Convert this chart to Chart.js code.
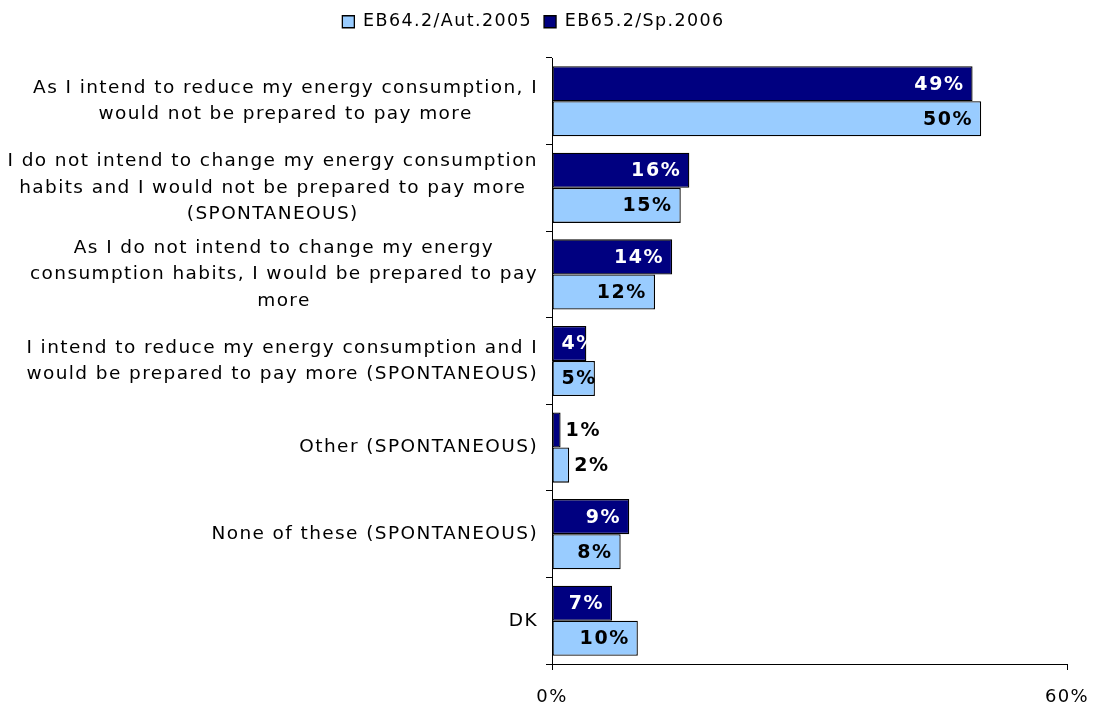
<!DOCTYPE html>
<html>
<head>
<meta charset="utf-8">
<script src="https://cdn.jsdelivr.net/npm/chart.js@4.4.1/dist/chart.umd.min.js"></script>
<style>
  html, body { margin: 0; padding: 0; background: #fff; }
  #wrap { width: 1095px; height: 705px; }
</style>
</head>
<body>
<div id="wrap"><canvas id="chart"></canvas></div>
<script>
// answer options, each one split into the lines shown beside the bars
const categories = [
  ['As I intend to reduce my energy consumption, I', 'would not be prepared to pay more'],
  ['I do not intend to change my energy consumption', 'habits and I would not be prepared to pay more', '(SPONTANEOUS)'],
  ['As I do not intend to change my energy', 'consumption habits, I would be prepared to pay', 'more'],
  ['I intend to reduce my energy consumption and I', 'would be prepared to pay more (SPONTANEOUS)'],
  ['Other (SPONTANEOUS)'],
  ['None of these (SPONTANEOUS)'],
  ['DK']
];
const spring2006 = [49, 16, 14, 4, 1, 9, 7];
const autumn2005 = [50, 15, 12, 5, 2, 8, 10];
const xTicks = [0, 60];

const FONT = 'DejaVu Sans';
const SPACING = '1.4px';

// wider tracking for all chart text (canvas resets it on resize)
const tracking = {
  id: 'tracking',
  beforeLayout(chart) { chart.ctx.letterSpacing = SPACING; },
  beforeDraw(chart) { chart.ctx.letterSpacing = SPACING; }
};

// category text: block sits against the axis, lines centred inside it
const sideLabels = {
  id: 'sideLabels',
  afterDraw(chart) {
    const ctx = chart.ctx;
    const yScale = chart.scales.y;
    const right = chart.chartArea.left - 14;
    const lineH = 26.5;
    ctx.save();
    ctx.font = '18.5px "' + FONT + '"';
    ctx.letterSpacing = SPACING;
    ctx.fillStyle = '#000';
    ctx.textAlign = 'center';
    ctx.textBaseline = 'middle';
    categories.forEach((lines, i) => {
      const w = Math.max(...lines.map(l => ctx.measureText(l).width));
      const cx = right - w / 2;
      const cy = yScale.getPixelForValue(i);
      const top = cy - (lines.length - 1) * lineH / 2;
      lines.forEach((l, k) => ctx.fillText(l, cx, top + k * lineH));
    });
    ctx.restore();
  }
};

// value labels: inside the bar end, pushed outside for the tiny bars
const valueLabels = {
  id: 'valueLabels',
  afterDatasetsDraw(chart) {
    const ctx = chart.ctx;
    ctx.save();
    ctx.font = 'bold 19px "' + FONT + '"';
    ctx.letterSpacing = '1.6px';
    ctx.textBaseline = 'middle';
    ctx.textAlign = 'left';
    chart.data.datasets.forEach((ds, d) => {
      chart.getDatasetMeta(d).data.forEach((bar, i) => {
        const v = ds.data[i];
        const txt = v + '%';
        const w = ctx.measureText(txt).width;
        let x;
        if (v < 3) {
          ctx.fillStyle = '#000';
          x = bar.x + 5;
        } else {
          ctx.fillStyle = d === 0 ? '#fff' : '#000';
          x = Math.max(bar.x - 8 - w, bar.base + 9);
        }
        ctx.fillText(txt, x, bar.y + 1);
      });
    });
    ctx.restore();
  }
};

// fixed legend band so the plot starts at the same height
const legendBand = {
  id: 'legendBand',
  afterInit(chart) {
    const lg = chart.legend;
    const fit = lg.fit;
    lg.fit = function () { fit.call(this); this.height = 57; };
  }
};

new Chart(document.getElementById('chart'), {
  type: 'bar',
  data: {
    labels: categories.map(c => c.join(' ')),
    datasets: [
      {
        label: 'EB65.2/Sp.2006',
        data: spring2006,
        backgroundColor: '#000080',
        borderColor: '#000',
        borderWidth: 1.3,
        borderSkipped: false
      },
      {
        label: 'EB64.2/Aut.2005',
        data: autumn2005,
        backgroundColor: '#99ccff',
        borderColor: '#000',
        borderWidth: 1.3,
        borderSkipped: false
      }
    ]
  },
  options: {
    indexAxis: 'y',
    responsive: true,
    maintainAspectRatio: false,
    animation: false,
    layout: { padding: { left: 0, right: 28, top: 1, bottom: 0 } },
    categoryPercentage: 0.81,
    barPercentage: 1,
    scales: {
      x: {
        min: 0,
        max: 60,
        afterBuildTicks: s => { s.ticks = xTicks.map(v => ({ value: v })); },
        afterFit: s => { s.height = 41; s.paddingLeft = 0; s.paddingRight = 0; },
        grid: { drawOnChartArea: false, color: '#000', tickLength: 6 },
        border: { color: '#000', width: 1 },
        ticks: {
          color: '#000',
          font: { family: FONT, size: 18 },
          padding: 17,
          callback: v => v + '%'
        }
      },
      y: {
        afterFit: s => { s.width = 552; },
        grid: { drawOnChartArea: false, offset: true, color: '#000', tickLength: 6 },
        border: { color: '#000', width: 1 },
        ticks: { display: false }
      }
    },
    plugins: {
      legend: {
        position: 'top',
        reverse: true,
        labels: {
          color: '#000',
          font: { family: FONT, size: 17.5 },
          boxWidth: 12,
          boxHeight: 12,
          padding: 12
        }
      },
      tooltip: { enabled: false }
    }
  },
  plugins: [tracking, sideLabels, valueLabels, legendBand]
});
</script>
</body>
</html>
